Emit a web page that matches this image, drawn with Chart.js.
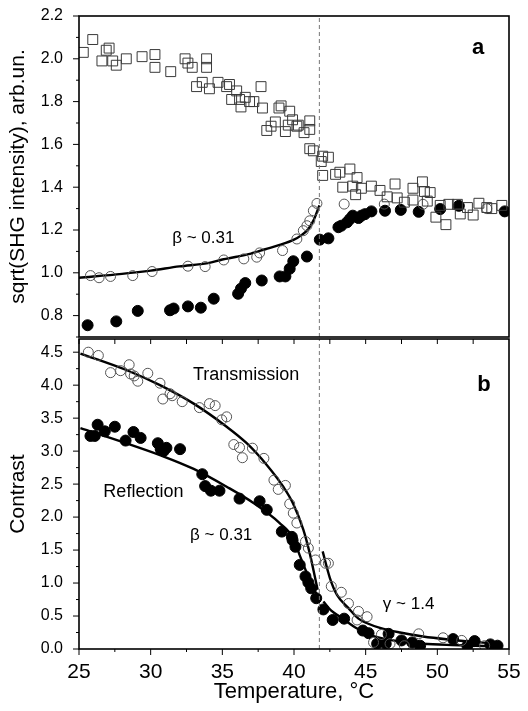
<!DOCTYPE html>
<html>
<head>
<meta charset="utf-8">
<script src="https://cdn.jsdelivr.net/npm/chart.js@4/dist/chart.umd.min.js"></script>
<style>
  html, body { margin: 0; padding: 0; background: #fff; }
  #wrap { position: relative; width: 528px; height: 711px; overflow: hidden; }
  .box { position: absolute; left: 0; width: 528px; }
</style>
</head>
<body>
<div id="wrap">
  <div class="box" style="top:0;height:345px"><canvas id="top"></canvas></div>
  <div class="box" style="top:330px;height:381px"><canvas id="bot"></canvas></div>
</div>
<script>
// ---- panel a : sqrt(SHG intensity) ----
const sqT = [25.3,25.96,26.6,26.9,27.1,27.35,27.6,28.3,29.4,30.3,30.3,31.4,32.4,32.6,32.9,33.2,33.6,33.9,33.9,34.1,34.7,35.3,35.5,35.65,36.0,36.2,36.3,36.6,36.9,37.2,37.7,37.8,38.1,38.4,38.7,38.95,39.1,39.4,39.6,39.7,39.9,40.2,40.3,40.7,41.1,41.1,41.1,41.35,41.9,42.0,42.4,42.0,42.9,43.2,43.4,43.9,44.1,44.3,44.4,44.7,45.4,46.0,46.5,47.05,47.2,47.7,48.3,48.3,48.96,49.1,49.3,49.5,49.9,50.2,50.6,50.8,51.4,51.6,52.1,52.5,52.9,53.45,53.8,54.5];
const sqV = [2.03,2.09,1.99,2.04,2.05,1.99,1.97,2.0,2.01,2.02,1.96,1.94,2.0,1.98,1.96,1.87,1.89,2.0,1.96,1.86,1.89,1.87,1.88,1.81,1.85,1.81,1.775,1.82,1.80,1.80,1.87,1.77,1.665,1.685,1.705,1.77,1.78,1.66,1.69,1.755,1.715,1.685,1.69,1.655,1.71,1.67,1.58,1.57,1.52,1.545,1.54,1.455,1.46,1.47,1.40,1.485,1.405,1.365,1.445,1.395,1.405,1.385,1.355,1.415,1.35,1.33,1.395,1.34,1.425,1.38,1.335,1.375,1.26,1.315,1.225,1.32,1.32,1.275,1.305,1.27,1.325,1.305,1.30,1.315];

const openAT = [25.8,26.4,27.2,28.75,30.1,32.6,33.8,35.1,36.5,37.4,37.6,39.2,40.2,40.65,40.9,41.1,41.35,41.6,43.5,46.3,49.0,53.45];
const openAV = [0.987,0.977,0.983,0.987,1.006,1.031,1.029,1.06,1.065,1.073,1.093,1.104,1.158,1.197,1.22,1.243,1.29,1.324,1.321,1.321,1.32,1.30];

const fillAT = [25.6,27.6,29.1,31.35,31.6,32.6,33.5,34.4,36.1,36.3,36.6,37.75,39.0,39.4,39.7,39.95,40.9,41.8,42.4,43.1,43.3,43.7,43.9,44.1,44.5,44.7,44.95,45.4,46.35,47.45,48.7,50.2,51.5,54.7];
const fillAV = [0.755,0.773,0.822,0.825,0.833,0.843,0.837,0.879,0.902,0.926,0.952,0.964,0.983,0.983,1.019,1.054,1.076,1.155,1.161,1.213,1.22,1.236,1.251,1.267,1.256,1.267,1.274,1.287,1.29,1.294,1.285,1.298,1.313,1.287];

const fitAT = [25,28,30,32,34,35,36,37,38,39,40,40.5,41,41.4,41.77];
const fitAV = [0.977,0.995,1.01,1.03,1.045,1.062,1.075,1.09,1.11,1.13,1.155,1.175,1.205,1.25,1.315];

// ---- panel b : contrast ----
const trT = [25.65,26.35,27.2,27.9,28.5,28.6,28.85,29.1,29.8,30.65,30.85,31.35,31.5,32.2,33.4,34.1,34.5,34.96,35.3,35.8,36.2,36.4,37.1,37.9,38.6,38.9,39.4,39.7,39.95,40.2,40.8,41.0,41.5,42.2,42.4,42.6,43.3,43.8,44.5,45.1,44.4,45.55,46.1,46.7,47.7,48.7,50.4,51.7,53.3];
const trV = [4.50,4.45,4.19,4.22,4.31,4.17,4.14,4.06,4.18,4.03,3.79,3.87,3.84,3.75,3.66,3.72,3.69,3.475,3.52,3.10,3.055,2.90,3.045,2.89,2.56,2.42,2.48,2.20,2.06,1.91,1.63,1.53,1.35,1.30,1.30,0.95,0.86,0.69,0.57,0.49,0.44,0.10,0.22,0.08,0.05,0.23,0.17,0.13,0.05];

const rfT = [25.8,26.1,26.3,26.8,27.5,28.25,28.8,29.3,30.5,30.7,30.9,31.1,32.05,33.6,33.8,34.2,34.8,36.2,37.6,38.1,39.15,39.85,39.9,40.1,40.4,40.8,41.0,41.2,41.55,42.05,42.7,43.5,44.8,45.2,45.8,46.4,46.6,47.5,48.25,48.8,51.1,52.1,52.6,53.7,54.2];
const rfV = [3.23,3.23,3.40,3.30,3.37,3.16,3.29,3.20,3.12,3.03,3.00,3.05,3.03,2.65,2.47,2.40,2.40,2.28,2.24,2.11,1.78,1.70,1.65,1.55,1.275,1.10,1.01,0.92,0.77,0.60,0.44,0.46,0.28,0.24,0.08,0.08,0.23,0.13,0.10,0.05,0.15,0.05,0.12,0.07,0.05];

const fitTrLoT = [25.1,28.3,30.65,33,35.3,36.7,38.1,39.25,39.95,40.65,41.1,41.5,41.65];
const fitTrLoV = [4.48,4.23,4.0,3.72,3.37,3.12,2.79,2.46,2.2,1.81,1.45,1.05,0.9];
const fitRfLoT = [25.1,28.3,30.65,33,35.3,37.2,39,39.95,40.4,40.9,41.3,41.65];
const fitRfLoV = [3.35,3.12,2.94,2.73,2.46,2.21,1.91,1.68,1.42,1.15,0.95,0.8];
const fitTrHiT = [42.0,42.5,43.0,43.8,44.5,45.1,46,47.4,49,51,53,54.3];
const fitTrHiV = [1.48,1.08,0.82,0.62,0.46,0.39,0.32,0.25,0.19,0.14,0.1,0.087];
const fitRfHiT = [42.05,42.6,43.2,44.4,45.5,47.2,49,51,54.3];
const fitRfHiV = [0.72,0.58,0.49,0.31,0.2,0.12,0.08,0.06,0.04];

const Tc = 41.77;

// axes
const xTicks = [25,30,35,40,45,50,55];
const yTicksA = [0.8,1.0,1.2,1.4,1.6,1.8,2.0,2.2];
const yTicksB = [0.0,0.5,1.0,1.5,2.0,2.5,3.0,3.5,4.0,4.5];

const pts = (T, V) => T.map((t, i) => ({x: t, y: V[i]}));
const FONT = "'Liberation Sans', Arial, sans-serif";

// frame, hand-drawn ticks and labels
const framePlugin = {
  id: 'frame',
  afterDraw(chart, args, o) {
    const {ctx, chartArea: a, scales} = chart;
    const X = scales.x, Y = scales.y;
    ctx.save();
    ctx.strokeStyle = '#000';
    ctx.lineWidth = 1;
    const seg = (x1, y1, x2, y2) => { ctx.beginPath(); ctx.moveTo(x1, y1); ctx.lineTo(x2, y2); ctx.stroke(); };
    o.yMajor.forEach(v => { const p = Y.getPixelForValue(v); seg(a.left - 6, p, a.left, p); });
    o.yMinor.forEach(v => { const p = Y.getPixelForValue(v); seg(a.left - 3, p, a.left, p); });
    if (o.xBottom) {
      xTicks.forEach(v => { const p = X.getPixelForValue(v); seg(p, a.bottom, p, a.bottom + 6); });
      xTicks.slice(0, -1).forEach(v => { const p = X.getPixelForValue(v + 2.5); seg(p, a.bottom, p, a.bottom + 3); });
      xTicks.slice(0, -1).forEach(v => {
        [v, v + 2.5].forEach(w => { const p = X.getPixelForValue(w); seg(p, a.top, p, a.top + 5); });
      });
    }
    ctx.lineWidth = 1.6;
    ctx.strokeRect(a.left, a.top, a.right - a.left, a.bottom - a.top);
    ctx.fillStyle = '#000';
    ctx.textBaseline = 'middle';
    o.labels.forEach(l => {
      ctx.font = l.font;
      ctx.textAlign = l.align || 'left';
      ctx.fillText(l.text, X.getPixelForValue(l.t), Y.getPixelForValue(l.v));
    });
    ctx.restore();
  }
};

function markers(data, style, radius, fill, stroke) {
  return {
    type: 'line', data, showLine: false, pointStyle: style, pointRadius: radius,
    pointBackgroundColor: fill, pointBorderColor: stroke, pointBorderWidth: 1, pointHoverRadius: radius
  };
}
function curve(data, opts) {
  return Object.assign({
    type: 'line', data, borderColor: '#000', borderWidth: 2.4, pointRadius: 0,
    tension: 0.4, cubicInterpolationMode: 'monotone', fill: false
  }, opts || {});
}
function dashed(lo, hi) {
  return { type: 'line', data: [{x: Tc, y: lo}, {x: Tc, y: hi}], borderColor: '#777',
    borderWidth: 1, borderDash: [4, 3], pointRadius: 0 };
}
function yAxis(min, max, ticks, title) {
  return {
    type: 'linear', min, max,
    afterBuildTicks: s => { s.ticks = ticks.map(v => ({value: v})); },
    afterFit: s => { s.width = 79; s.paddingTop = 0; s.paddingBottom = 0; },
    grid: { display: false }, border: { display: false },
    ticks: { color: '#000', padding: 8, font: { family: FONT, size: 16 }, callback: v => v.toFixed(1) },
    title: { display: true, text: title, color: '#000', font: { family: FONT, size: 21 }, padding: { top: 6 } }
  };
}

const common = {
  responsive: true, maintainAspectRatio: false, animation: false,
  events: [],
  plugins: { legend: { display: false }, tooltip: { enabled: false } }
};

new Chart(document.getElementById('top'), {
  data: {
    datasets: [
      dashed(0.7, 2.2),
      markers(pts(sqT, sqV), 'rect', 7, 'rgba(0,0,0,0)', '#3a3a3a'),
      markers(pts(openAT, openAV), 'circle', 5, 'rgba(0,0,0,0)', '#555'),
      markers(pts(fillAT, fillAV), 'circle', 5.5, '#000', '#000'),
      curve(pts(fitAT, fitAV))
    ]
  },
  options: Object.assign({}, common, {
    layout: { padding: { top: 16, right: 19, bottom: 6, left: 0 } },
    scales: {
      x: { type: 'linear', min: 25, max: 55, display: false },
      y: yAxis(0.7, 2.2, yTicksA, 'sqrt(SHG intensity), arb.un.')
    },
    plugins: Object.assign({}, common.plugins, {
      frame: {
        yMajor: yTicksA, yMinor: [0.7,0.9,1.1,1.3,1.5,1.7,1.9,2.1], xBottom: false,
        labels: [
          { t: 31.5, v: 1.16, text: 'β ~ 0.31', font: '17px ' + FONT },
          { t: 52.85, v: 2.05, text: 'a', font: 'bold 22px ' + FONT, align: 'center' }
        ]
      }
    })
  }),
  plugins: [framePlugin]
});

new Chart(document.getElementById('bot'), {
  data: {
    datasets: [
      dashed(0, 4.7),
      markers(pts(trT, trV), 'circle', 5, 'rgba(0,0,0,0)', '#555'),
      markers(pts(rfT, rfV), 'circle', 5.5, '#000', '#000'),
      curve(pts(fitTrLoT, fitTrLoV)),
      curve(pts(fitRfLoT, fitRfLoV)),
      curve(pts(fitTrHiT, fitTrHiV)),
      curve(pts(fitRfHiT, fitRfHiV))
    ]
  },
  options: Object.assign({}, common, {
    layout: { padding: { top: 9, right: 19, bottom: 0, left: 0 } },
    scales: {
      x: {
        type: 'linear', min: 25, max: 55,
        afterBuildTicks: s => { s.ticks = xTicks.map(v => ({value: v})); },
        afterFit: s => { s.height = 62; s.paddingLeft = 0; s.paddingRight = 0; },
        grid: { display: false }, border: { display: false },
        ticks: { color: '#000', padding: 3, maxRotation: 0, font: { family: FONT, size: 21 } },
        title: { display: true, text: 'Temperature, °C', color: '#000', font: { family: FONT, size: 22 }, padding: { bottom: 6 } }
      },
      y: yAxis(0, 4.7, yTicksB, 'Contrast')
    },
    plugins: Object.assign({}, common.plugins, {
      frame: {
        yMajor: yTicksB, yMinor: [0.25,0.75,1.25,1.75,2.25,2.75,3.25,3.75,4.25], xBottom: true,
        labels: [
          { t: 32.95, v: 4.16, text: 'Transmission', font: '18px ' + FONT },
          { t: 26.7, v: 2.38, text: 'Reflection', font: '18px ' + FONT },
          { t: 32.75, v: 1.73, text: 'β ~ 0.31', font: '17px ' + FONT },
          { t: 46.2, v: 0.68, text: 'γ ~ 1.4', font: '17px ' + FONT },
          { t: 53.26, v: 4.0, text: 'b', font: 'bold 22px ' + FONT, align: 'center' }
        ]
      }
    })
  }),
  plugins: [framePlugin]
});
</script>
</body>
</html>
